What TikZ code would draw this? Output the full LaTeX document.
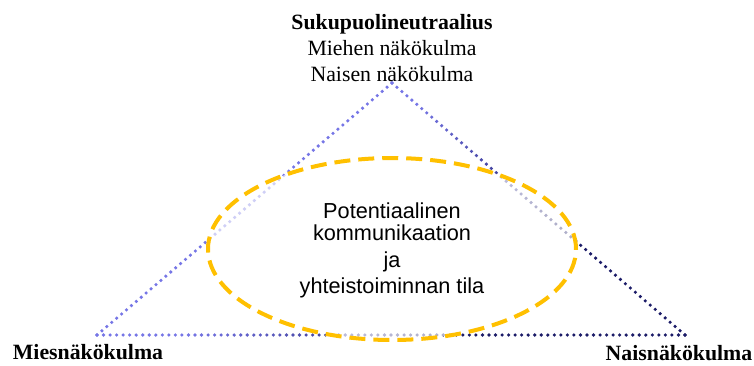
\documentclass[tikz,border=0pt]{standalone}
\usepackage{fontspec}
\setmainfont{Liberation Serif}
\newfontfamily\arialfont{Liberation Sans}
\definecolor{trlight}{HTML}{7676E6}
\definecolor{trdark}{HTML}{1C1C68}
\definecolor{ovgold}{HTML}{FFC000}
\newcommand\dotside[4]{%
  \pgfmathsetmacro\sidelen{100*veclen((#3-#1)/100,(#4-#2)/100)}%
  \pgfmathtruncatemacro\nn{round(\sidelen/6.5)}%
  \foreach \i in {0,...,\nn}{%
    \pgfmathsetmacro\ff{\i/\nn}%
    \pgfmathsetmacro\px{#1+(#3-#1)*\ff}%
    \pgfmathsetmacro\py{#2+(#4-#2)*\ff}%
    \pgfmathtruncatemacro\pp{max(0,min(100,(\px+\py-520)/2.6))}%
    \fill[trdark!\pp!trlight] (\px,\py) circle[radius=1.8pt];
  }}
\tikzset{
  titletext/.style={font=\fontsize{21.8}{26}\selectfont, align=center, inner sep=0pt},
  cornertext/.style={font=\bfseries\fontsize{21.8}{26}\selectfont, inner sep=0pt, anchor=base},
  midtext/.style={font=\arialfont\fontsize{21.7}{22}\selectfont, align=center, inner sep=0pt},
  gapellipse/.style={draw=ovgold, line width=4pt, dash pattern=on 16pt off 8pt, fill=white, fill opacity=0.65}
}
\begin{document}
\begin{tikzpicture}[x=1pt,y=-1pt]
\useasboundingbox (0,0) rectangle (754,365);
\coordinate (apex) at (392,83);
\coordinate (bl) at (97,335);
\coordinate (br) at (685,335);
\dotside{392}{83}{97}{335}
\dotside{97}{335}{685}{335}
\dotside{392}{83}{685}{335}
\draw[gapellipse] (392,249) ellipse [x radius=184pt, y radius=91pt];
\node[midtext] (mid) at (392,250) {Potentiaalinen\\kommunikaation\\[5pt]ja\\[4pt]yhteistoiminnan tila};
\node[titletext, anchor=south] (top) at (392,82) {\textbf{Sukupuolineutraalius}\\Miehen näkökulma\\Naisen näkökulma};
\node[cornertext] (men) at (88,359) {Miesnäkökulma};
\node[cornertext] (women) at (679,360) {Naisnäkökulma};
\end{tikzpicture}
\end{document}
